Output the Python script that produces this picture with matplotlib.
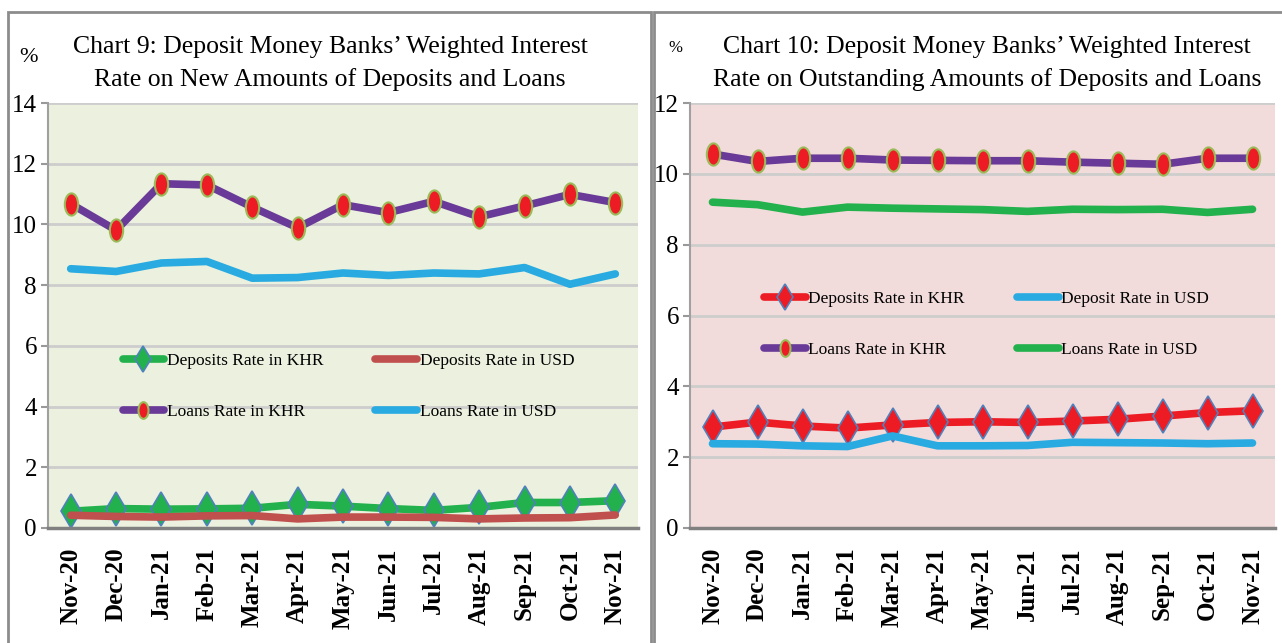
import numpy as np
import matplotlib
matplotlib.use("Agg")
import matplotlib.pyplot as plt
from matplotlib.path import Path
from matplotlib.patches import Rectangle

months = ["Nov-20", "Dec-20", "Jan-21", "Feb-21", "Mar-21", "Apr-21", "May-21",
          "Jun-21", "Jul-21", "Aug-21", "Sep-21", "Oct-21", "Nov-21"]

# Chart 9: new amounts
new_dep_khr = [0.55, 0.64, 0.62, 0.63, 0.65, 0.78, 0.72, 0.64, 0.58, 0.68, 0.84, 0.84, 0.90]
new_dep_usd = [0.42, 0.38, 0.36, 0.40, 0.41, 0.30, 0.36, 0.36, 0.35, 0.30, 0.33, 0.34, 0.43]
new_loan_khr = [10.68, 9.81, 11.34, 11.30, 10.57, 9.89, 10.65, 10.39, 10.76, 10.25, 10.61, 10.99, 10.72]
new_loan_usd = [8.54, 8.45, 8.73, 8.78, 8.23, 8.25, 8.40, 8.32, 8.40, 8.37, 8.58, 8.03, 8.37]

# Chart 10: outstanding amounts
out_dep_khr = [2.85, 2.99, 2.88, 2.82, 2.91, 2.98, 3.00, 2.98, 3.02, 3.07, 3.16, 3.26, 3.31]
out_dep_usd = [2.38, 2.37, 2.32, 2.30, 2.60, 2.32, 2.32, 2.33, 2.42, 2.41, 2.40, 2.38, 2.40]
out_loan_khr = [10.56, 10.35, 10.44, 10.44, 10.39, 10.38, 10.37, 10.37, 10.33, 10.30, 10.27, 10.44, 10.44]
out_loan_usd = [9.20, 9.13, 8.92, 9.06, 9.03, 9.01, 8.99, 8.94, 9.00, 8.99, 9.00, 8.91, 9.00]

W, H = 1282, 643
fig = plt.figure(figsize=(W / 100, H / 100), dpi=100)
plt.rcParams['font.family'] = ['Liberation Serif', 'DejaVu Serif']

# panel frames
fig.patches.append(Rectangle((8 / W, -0.05), 643 / W, (H - 12) / H + 0.05, transform=fig.transFigure,
                             fill=False, edgecolor="#8c8c8c", lw=2))
fig.patches.append(Rectangle((654 / W, -0.05), 640 / W, (H - 12) / H + 0.05, transform=fig.transFigure,
                             fill=False, edgecolor="#8c8c8c", lw=2))

ellipse = Path(Path.unit_circle().vertices * np.array([0.6, 1.0]), Path.unit_circle().codes)

purple = "#6a3a98"
cyan = "#29abe2"
green = "#22b14c"
brick = "#c0504d"
red = "#ed1c24"


def setup(ax, bg, ymax, step):
    ax.set_facecolor(bg)
    ax.set_xlim(-0.5, 12.5)
    ax.set_ylim(0, ymax)
    ax.set_yticks(np.arange(0, ymax + 0.1, step))
    ax.yaxis.grid(True, color="#cdcdcd", lw=2)
    ax.set_axisbelow(True)
    ax.set_xticks(range(len(months)))
    ax.set_xticklabels(months, rotation=90, fontweight="bold", fontsize=18, va="top")
    ax.tick_params(axis="x", length=0, pad=14)
    ax.tick_params(axis="y", length=5, color="#999999", width=1.5, labelsize=18, pad=3)
    for s in ("top", "right"):
        ax.spines[s].set_visible(False)
    ax.spines["left"].set_color("#a0a0a0")
    ax.spines["left"].set_linewidth(1.5)
    ax.spines["bottom"].set_color("#808080")
    ax.spines["bottom"].set_linewidth(2.5)


def legend(ax, handles, labels, y):
    ax.legend(handles, labels, ncol=2, loc="center left", bbox_to_anchor=(0.1, y), frameon=False,
              fontsize=12.5, handlelength=2.4, handletextpad=0.15, labelspacing=2.0, columnspacing=3.0,
              markerscale=0.75)


x = np.arange(len(months))
lw = 5.5

# ---- Chart 9
ax1 = fig.add_axes([48 / W, 115 / H, 590 / W, 425 / H])
setup(ax1, "#ebf1de", 14, 2)
l1, = ax1.plot(x, new_dep_khr, color=green, lw=lw, marker="d", ms=17, mfc=green, mec="#4f81bd", mew=1.2,
               solid_capstyle="round")
l2, = ax1.plot(x, new_dep_usd, color=brick, lw=lw, solid_capstyle="round")
l3, = ax1.plot(x, new_loan_khr, color=purple, lw=lw, marker=ellipse, ms=16, mfc=red, mec="#9bbb59", mew=1.5,
               solid_capstyle="round")
l4, = ax1.plot(x, new_loan_usd, color=cyan, lw=lw, solid_capstyle="round")
legend(ax1, [l1, l3, l2, l4],
       ["Deposits Rate in KHR", "Loans Rate in KHR", "Deposits Rate in USD", "Loans Rate in USD"], 0.333)

fig.text(330 / W, 1 - 47 / H, "Chart 9: Deposit Money Banks\u2019 Weighted Interest", ha="center", va="center", fontsize=18.5)
fig.text(330 / W, 1 - 80 / H, "Rate on New Amounts of Deposits and Loans", ha="center", va="center", fontsize=18.5)
fig.text(28 / W, 1 - 57 / H, "%", ha="center", va="center", fontsize=16)

# ---- Chart 10
ax2 = fig.add_axes([690 / W, 115 / H, 585 / W, 425 / H])
setup(ax2, "#f2dcdb", 12, 2)
r1, = ax2.plot(x, out_dep_khr, color=red, lw=lw, marker="d", ms=17, mfc=red, mec="#4f81bd", mew=1.2,
               solid_capstyle="round")
r2, = ax2.plot(x, out_dep_usd, color=cyan, lw=lw, solid_capstyle="round")
r3, = ax2.plot(x, out_loan_khr, color=purple, lw=lw, marker=ellipse, ms=16, mfc=red, mec="#9bbb59", mew=1.5,
               solid_capstyle="round")
r4, = ax2.plot(x, out_loan_usd, color=green, lw=lw, solid_capstyle="round")
legend(ax2, [r1, r3, r2, r4],
       ["Deposits Rate in KHR", "Loans Rate in KHR", "Deposit Rate in USD", "Loans Rate in USD"], 0.479)

fig.text(987 / W, 1 - 47 / H, "Chart 10: Deposit Money Banks\u2019 Weighted Interest", ha="center", va="center", fontsize=18.5)
fig.text(987 / W, 1 - 80 / H, "Rate on Outstanding Amounts of Deposits and Loans", ha="center", va="center", fontsize=18.5)
fig.text(675 / W, 1 - 48 / H, "%", ha="center", va="center", fontsize=12)

fig.savefig("out.png", dpi=100)
